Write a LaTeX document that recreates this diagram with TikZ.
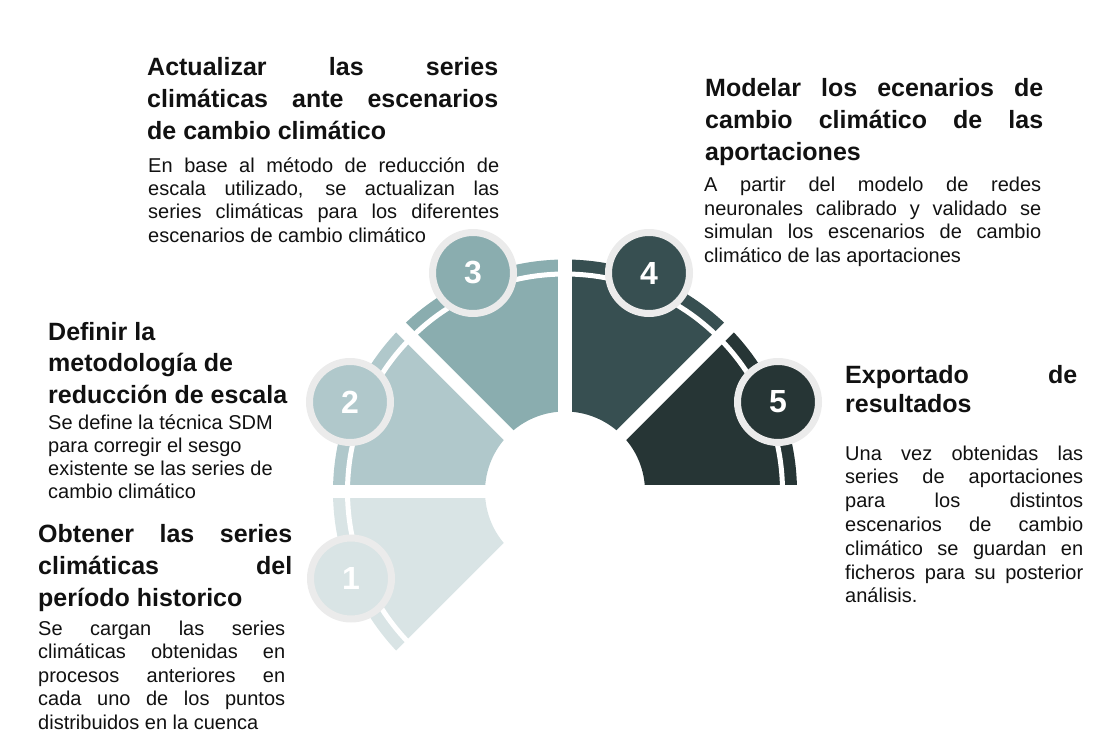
\documentclass[tikz,border=0pt]{standalone}
\usepackage{fontspec}
\setmainfont{Liberation Sans}
\definecolor{segA}{RGB}{217,228,229}
\definecolor{segB}{RGB}{176,200,203}
\definecolor{segC}{RGB}{138,173,175}
\definecolor{segD}{RGB}{55,79,81}
\definecolor{segE}{RGB}{38,53,53}
\definecolor{ringgray}{RGB}{235,235,235}
\definecolor{ink}{RGB}{17,17,17}
\newcommand{\jline}[1]{\makebox[\linewidth][s]{#1}}
\begin{document}
\begin{tikzpicture}[x=1pt,y=1pt,
  numcirc/.style={circle, draw=ringgray, line width=7pt, minimum size=81pt, inner sep=0pt,
    text=white, font=\bfseries\fontsize{32}{32}\selectfont},
  ttl/.style={anchor=base west, inner sep=0pt, text=ink, font=\bfseries\fontsize{25}{32}\selectfont},
  bdy/.style={anchor=base west, inner sep=0pt, text=ink, font=\fontsize{20}{23.5}\selectfont},
  gapline/.style={white, line width=13.5pt}]
\useasboundingbox (0,0) rectangle (1118,-754);
\coordinate (c) at (565,-491.5);
% segments
\fill[segA] ([shift={(180:232pt)}]c) arc[start angle=180,end angle=225,radius=232pt] -- ([shift={(225:80pt)}]c) arc[start angle=225,end angle=180,radius=80pt] -- cycle;
\fill[segB] ([shift={(135:232pt)}]c) arc[start angle=135,end angle=180,radius=232pt] -- ([shift={(180:80pt)}]c) arc[start angle=180,end angle=135,radius=80pt] -- cycle;
\fill[segC] ([shift={(90:232pt)}]c) arc[start angle=90,end angle=135,radius=232pt] -- ([shift={(135:80pt)}]c) arc[start angle=135,end angle=90,radius=80pt] -- cycle;
\fill[segD] ([shift={(45:232pt)}]c) arc[start angle=45,end angle=90,radius=232pt] -- ([shift={(90:80pt)}]c) arc[start angle=90,end angle=45,radius=80pt] -- cycle;
\fill[segE] ([shift={(0:232pt)}]c) arc[start angle=0,end angle=45,radius=232pt] -- ([shift={(45:80pt)}]c) arc[start angle=45,end angle=0,radius=80pt] -- cycle;
% white ring between fill and band
\draw[white, line width=5pt] (c) circle[radius=217.5pt];
% radial gaps
\foreach \a in {0,45,90,135,180,225} \draw[gapline] (c) -- ++(\a:245pt);
% numbered circles
\node[numcirc, fill=segA] (n1) at (351,-578.5) {1};
\node[numcirc, fill=segB] (n2) at (350,-402) {2};
\node[numcirc, fill=segC] (n3) at (473,-273) {3};
\node[numcirc, fill=segD] (n4) at (649,-273) {4};
\node[numcirc, fill=segE] (n5) at (778,-402) {5};
% block 3
\node[ttl] (t3) at (147,-76) {\parbox[t]{351pt}{\jline{Actualizar las series}\\\jline{climáticas ante escenarios}\\de cambio climático}};
\node[bdy] (b3) at (148,-172) {\parbox[t]{351pt}{\jline{En base al método de reducción de}\\\jline{escala utilizado, se actualizan las}\\\jline{series climáticas para los diferentes}\\escenarios de cambio climático}};
% block 4
\node[ttl] (t4) at (705,-97) {\parbox[t]{338pt}{\jline{Modelar los ecenarios de}\\\jline{cambio climático de las}\\aportaciones}};
\node[bdy] (b4) at (704,-192) {\parbox[t]{337pt}{\jline{A partir del modelo de redes}\\\jline{neuronales calibrado y validado se}\\\jline{simulan los escenarios de cambio}\\climático de las aportaciones}};
% block 2
\node[ttl] (t2) at (48,-340) {\parbox[t]{260pt}{\fontsize{25}{31.5}\selectfont Definir la\\metodología de\\reducción de escala}};
\node[bdy] (b2) at (48,-429) {\parbox[t]{260pt}{\fontsize{20}{23}\selectfont Se define la técnica SDM\\para corregir el sesgo\\existente se las series de\\cambio climático}};
% block 1
\node[ttl] (t1) at (38,-542) {\parbox[t]{254pt}{\jline{Obtener las series}\\\jline{climáticas del}\\período historico}};
\node[bdy] (b1) at (38,-635) {\parbox[t]{247pt}{\jline{Se cargan las series}\\\jline{climáticas obtenidas en}\\\jline{procesos anteriores en}\\\jline{cada uno de los puntos}\\distribuidos en la cuenca}};
% block 5
\node[ttl] (t5) at (845,-383) {\parbox[t]{232pt}{\fontsize{25}{29}\selectfont\jline{Exportado de}\\resultados}};
\node[bdy] (b5) at (845,-460) {\parbox[t]{238pt}{\fontsize{20}{23.8}\selectfont\jline{Una vez obtenidas las}\\\jline{series de aportaciones}\\\jline{para los distintos}\\\jline{escenarios de cambio}\\\jline{climático se guardan en}\\\jline{ficheros para su posterior}\\análisis.}};
\end{tikzpicture}
\end{document}
